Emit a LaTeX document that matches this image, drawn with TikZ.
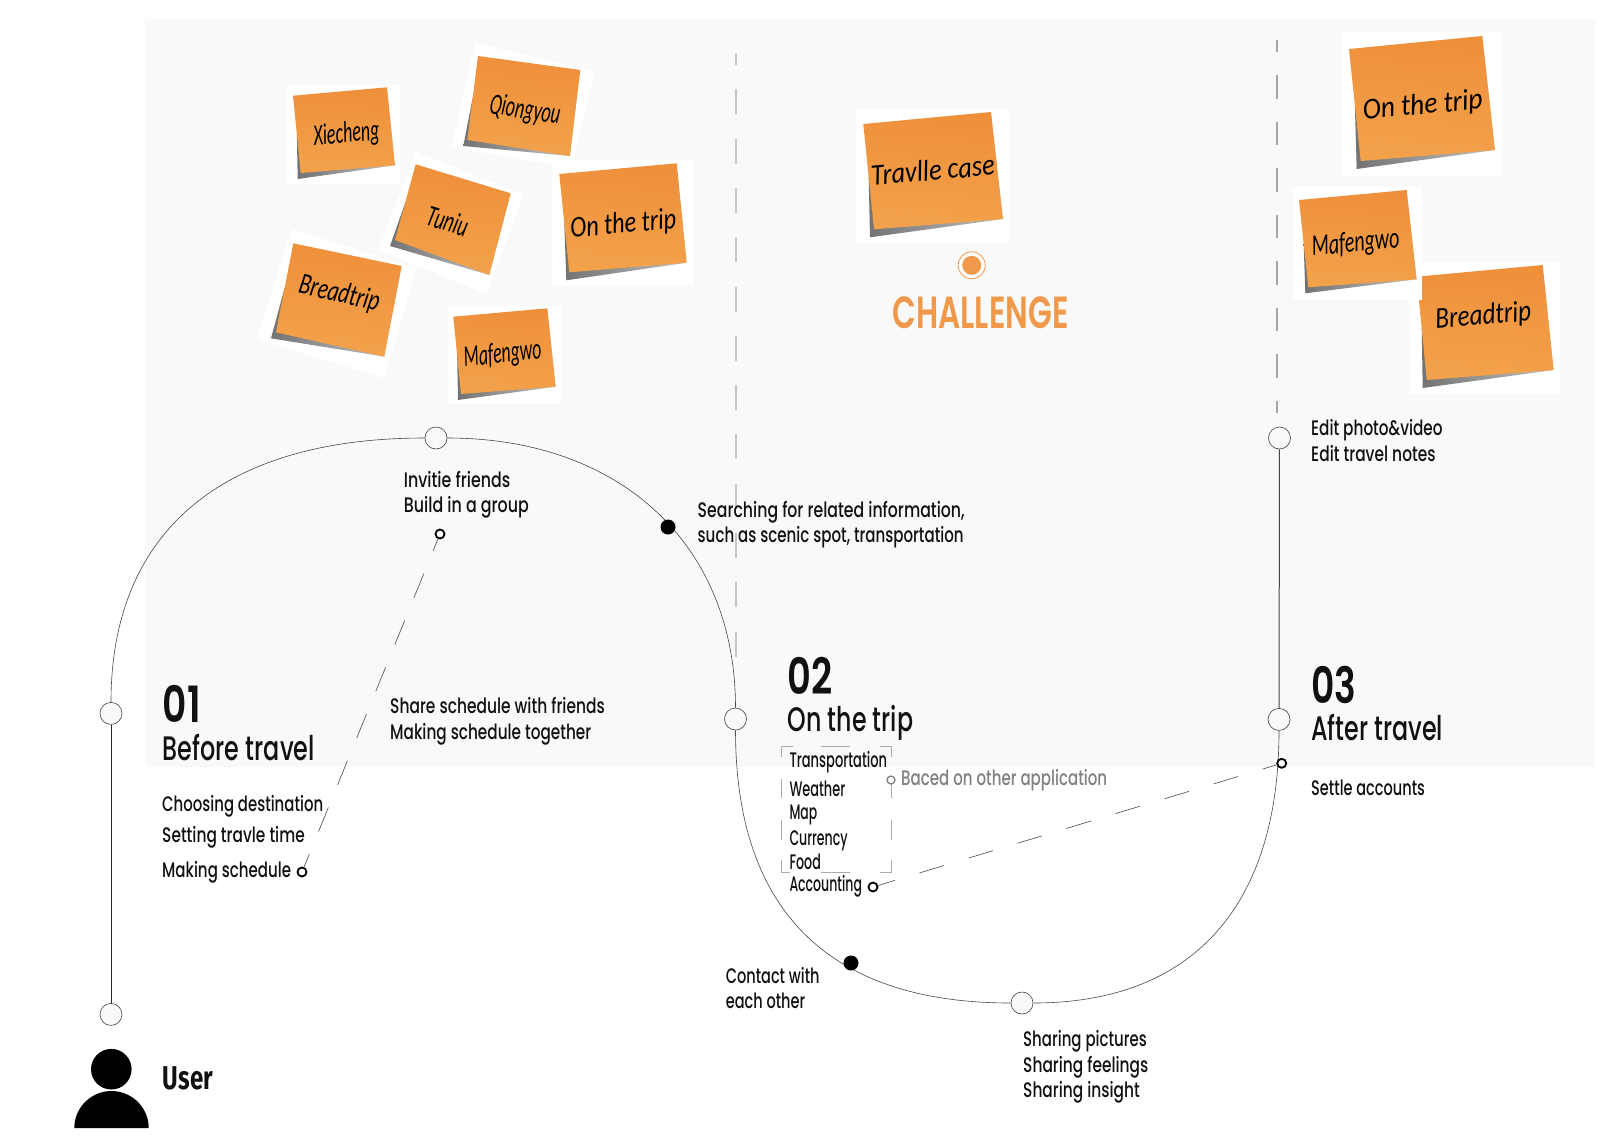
\documentclass[tikz,border=0pt]{standalone}
\usepackage{fontspec}
\usepackage{graphicx}
\usetikzlibrary{calc}
\newfontfamily\fmain{Poppins Medium}
\newfontfamily\fhead{Poppins SemiBold}
\newfontfamily\fuser{Fira Sans}
\newfontfamily\fhand{Carlito}
\definecolor{bgc}{HTML}{F9F9F9}
\definecolor{ink}{HTML}{111111}
\definecolor{stickTop}{HTML}{EF8F3A}
\definecolor{stickMid}{HTML}{F3A050}
\definecolor{stickBot}{HTML}{F2A24B}
\definecolor{chal}{HTML}{F1994A}
\newcommand\tw[2]{\resizebox{#1pt}{\height}{#2}}
\newcommand\sticky[6]{%
  \fill[white] #1;
  \shade[left color=black!55,right color=black!25] ($#2!.5!#5$) -- ($#5+#6$) -- #4 -- cycle;
  \shade[top color=stickTop,middle color=stickMid,bottom color=stickBot,shading angle=-5] #2 -- #3 -- #4 -- #5 -- cycle;
}
\tikzset{
  x=1pt,y=-1pt,
  bignode/.style={circle,draw=black!75,fill=bgc,line width=.6pt,minimum size=22pt,inner sep=0pt},
  dotnode/.style={circle,fill=black,minimum size=15pt,inner sep=0pt},
  ringnode/.style={circle,draw=black,fill=white,line width=1.8pt,minimum size=9pt,inner sep=0pt},
  greyring/.style={circle,draw=black!50,fill=white,line width=1.3pt,minimum size=8pt,inner sep=0pt},
  curve/.style={draw=black!72,line width=.6pt},
  stem/.style={draw=black!85,line width=1pt},
  thindash/.style={draw=black!72,line width=.6pt},
  boxdash/.style={draw=black!33,line width=.9pt},
  body/.style={anchor=base west,inner sep=0pt,text=ink,font=\fmain\fontsize{21}{21}\selectfont},
  head/.style={anchor=base west,inner sep=0pt,text=ink,font=\fmain\fontsize{34}{34}\selectfont},
  num/.style={anchor=base west,inner sep=0pt,text=ink,font=\fhead\fontsize{50}{50}\selectfont},
  hand/.style={inner sep=0pt,text=black,font=\fhand\itshape\fontsize{30}{30}\selectfont},
}
\begin{document}
\begin{tikzpicture}
\useasboundingbox (0,0) rectangle (1622,1138);
\fill[bgc] (145,19) rectangle (1595,767);
% dashed column separators
\coordinate (sepA1) at (736,53); \coordinate (sepA2) at (736,658);
\coordinate (sepB1) at (1277,40); \coordinate (sepB2) at (1277,413);
\draw[draw=black!22,line width=1.5pt,dash pattern=on 25pt off 24.3pt,dash phase=13pt] (sepA1) -- (sepA2);
\draw[draw=black!35,line width=1.2pt,dash pattern=on 23.5pt off 23pt,dash phase=11.5pt] (sepB1) -- (sepB2);
% sticky notes, group 1
\sticky{(287,85) -- (400,85) -- (400,184) -- (287,184) -- cycle}{(293,95.7)}{(387,87.3)}{(395,165.3)}{(300.7,173)}{(-3,6)}
\sticky{(475,42.7) -- (594.3,71.7) -- (571.7,168) -- (451.7,147.3) -- cycle}{(478,56)}{(580.3,70)}{(570,156)}{(467.3,140)}{(-4,6)}
\sticky{(291.7,229) -- (416.7,268.3) -- (384,378.3) -- (256.7,339.3) -- cycle}{(293.3,243.3)}{(401.7,266)}{(384.3,356.7)}{(276,332.3)}{(-5,6)}
\sticky{(415.7,151.7) -- (523.7,195) -- (486.7,294) -- (378,250) -- cycle}{(415.7,164.3)}{(510.7,193.3)}{(489.3,275)}{(395,240)}{(-5,6)}
\sticky{(552,160) -- (693,160) -- (693,286) -- (552,286) -- cycle}{(559.3,174)}{(676.7,163.3)}{(686.7,262.7)}{(569.3,272.3)}{(-3,8)}
\sticky{(448,305.7) -- (561,305.7) -- (561,404.3) -- (448,404.3) -- cycle}{(453.3,316.7)}{(547.3,308.3)}{(555.7,386.7)}{(461,394)}{(-3,6)}
\node[hand,rotate=5] (tXie) at (346.5,134.5) {\tw{66}{Xiecheng}};
\node[hand,rotate=-9] (tQio) at (525,111) {\tw{71}{Qiongyou}};
\node[hand,rotate=-17] (tTun) at (447.7,221) {\tw{42}{Tuniu}};
\node[hand,rotate=5] (tOn1) at (623.3,225) {\tw{106}{On the trip}};
\node[hand,rotate=-13] (tBre1) at (339.3,294.3) {\tw{82}{Breadtrip}};
\node[hand,rotate=6] (tMaf1) at (502.7,355) {\tw{78}{Mafengwo}};
% challenge
\sticky{(855.7,109) -- (1009,109) -- (1009,243.3) -- (855.7,243.3) -- cycle}{(863.3,124)}{(991,112)}{(1003,219)}{(874,229.3)}{(-4,8)}
\node[hand,rotate=5] (tCase) at (932.7,170) {\tw{124}{Travlle case}};
\node[circle,draw=chal,fill=white,line width=.8pt,minimum size=27pt,inner sep=0pt] (chalO) at (971.7,265.3) {};
\node[circle,fill=chal,minimum size=19pt,inner sep=0pt] (chalI) at (971.7,265.3) {};
\node[inner sep=0pt,anchor=base,text=chal,font=\fhead\fontsize{45}{45}\selectfont] (tChal) at (980.5,328) {\tw{176}{CHALLENGE}};
% sticky notes, group 3
\sticky{(1341.7,32.3) -- (1501.7,32.3) -- (1501.7,175.7) -- (1341.7,175.7) -- cycle}{(1349,49)}{(1482.3,36)}{(1495,150)}{(1360.7,161)}{(-4,8)}
\sticky{(1409.3,262) -- (1560,262) -- (1560,394.3) -- (1409.3,394.3) -- cycle}{(1416.7,276.7)}{(1542.7,265)}{(1553.7,370)}{(1426.7,380)}{(-4,8)}
\sticky{(1293.3,187.3) -- (1422,187.3) -- (1422,300) -- (1293.3,300) -- cycle}{(1299,200)}{(1406.7,190)}{(1416.7,279.3)}{(1308.3,287.3)}{(-3,6)}
\node[hand,rotate=5] (tOn2) at (1422.7,106) {\tw{120}{On the trip}};
\node[hand,rotate=5] (tMaf2) at (1355.7,244) {\tw{88}{Mafengwo}};
\node[hand,rotate=5] (tBre2) at (1483.3,316.7) {\tw{96}{Breadtrip}};
% path nodes
\node[bignode] (nEnd) at (111,1014.4) {};
\node[bignode] (nOne) at (111,713.4) {};
\node[bignode] (nTop) at (436,438) {};
\node[bignode] (nTwo) at (735.5,719) {};
\node[bignode] (nBot) at (1022,1003) {};
\node[bignode] (nThree) at (1279,719.4) {};
\node[bignode] (nEdit) at (1279.5,438) {};
\draw[stem] (nOne) -- (nEnd);
\draw[stem,draw=black!72] (nEdit) -- (nThree);
\draw[curve] (nOne) .. controls (111,532) and (222,438) .. (nTop);
\draw[curve] (nTop) .. controls (621,438) and (735.5,545) .. (nTwo);
\draw[curve] (nTwo) .. controls (735.5,909) and (827,1003) .. (nBot);
\draw[curve] (nBot) .. controls (1192,1003) and (1279,907) .. (nThree);
\node[dotnode] (dotA) at (668,527) {};
\node[dotnode] (dotB) at (851,963) {};
% dashed links
\node[ringnode,fill=bgc] (rA) at (440,534) {};
\node[ringnode] (rB) at (302,872) {};
\node[ringnode] (rC) at (873,887) {};
\node[ringnode,fill=bgc] (rD) at (1281.7,763.3) {};
\draw[thindash,dash pattern=on 26pt off 24.5pt,dash phase=13pt] (rA) -- (rB);
\draw[thindash,dash pattern=on 25.7pt off 25.5pt,dash phase=8pt] (rC) -- (rD);
% dashed bracket
\draw[boxdash] (792.5,746) -- (781,746) -- (781,757);
\draw[boxdash] (820.5,746) -- (850,746);
\draw[boxdash] (879.5,746) -- (891,746) -- (891,757);
\draw[boxdash] (781,778.5) -- (781,798);
\draw[boxdash] (781,819.5) -- (781,840);
\draw[boxdash] (781,860) -- (781,872) -- (790,872);
\draw[boxdash] (821,872) -- (850,872);
\draw[boxdash] (879.5,872) -- (891,872) -- (891,860);
\draw[boxdash] (891,778.5) -- (891,798);
\draw[boxdash] (891,819.5) -- (891,840);
\node[greyring,fill=bgc] (rE) at (891,780) {};
\node[body,text=black!50] (tBased) at (901,785.7) {\tw{206}{Baced on other application}};
% section heads
\node[num] (n01) at (162.7,722.7) {\tw{38}{01}};
\node[head] (h01) at (162.7,760) {\tw{152}{Before travel}};
\node[num] (n02) at (787.5,694.3) {\tw{45}{02}};
\node[head] (h02) at (787.5,731.7) {\tw{125.5}{On the trip}};
\node[num] (n03) at (1311.3,703.2) {\tw{45}{03}};
\node[head] (h03) at (1311,740) {\tw{132}{After travel}};
% body text
\node[body] (b1) at (162,811.5) {\tw{161}{Choosing destination}};
\node[body] (b2) at (162,842.5) {\tw{142.6}{Setting travle time}};
\node[body] (b3) at (162,877) {\tw{129}{Making schedule}};
\node[body] (b4) at (403.7,487) {\tw{106.3}{Invitie friends}};
\node[body] (b5) at (403.7,512.3) {\tw{125}{Build in a group}};
\node[body] (b6) at (390,713.3) {\tw{214.6}{Share schedule with friends}};
\node[body] (b7) at (390,739.3) {\tw{201}{Making schedule together}};
\node[body] (b8) at (697.5,517.5) {\tw{267}{Searching for related information,}};
\node[body] (b9) at (697.5,542.7) {\tw{266}{such as scenic spot, transportation}};
\node[body] (c1) at (789.3,767.3) {\tw{97.7}{Transportation}};
\node[body] (c2) at (789.3,796) {\tw{55.7}{Weather}};
\node[body] (c3) at (789.3,819.3) {\tw{27.7}{Map}};
\node[body] (c4) at (789.3,845) {\tw{58.2}{Currency}};
\node[body] (c5) at (789.3,869) {\tw{31.4}{Food}};
\node[body] (c6) at (789.3,891.7) {\tw{72.5}{Accounting}};
\node[body] (d1) at (1311,435.7) {\tw{131.4}{Edit photo\&video}};
\node[body] (d2) at (1311,461.7) {\tw{124.4}{Edit travel notes}};
\node[body] (d3) at (1311,795.7) {\tw{113.7}{Settle accounts}};
\node[body] (e1) at (725.6,983.3) {\tw{93.8}{Contact with}};
\node[body] (e2) at (725.6,1008.3) {\tw{79.4}{each other}};
\node[body] (f1) at (1023,1046.7) {\tw{123.6}{Sharing pictures}};
\node[body] (f2) at (1023,1072.3) {\tw{125.1}{Sharing feelings}};
\node[body] (f3) at (1023,1097.3) {\tw{116.6}{Sharing insight}};
% user
\node[circle,fill=black,minimum size=40.6pt,inner sep=0pt] (uHead) at (111.3,1069.2) {};
\fill[black] (74.3,1128) .. controls (74.3,1107.6) and (91,1091) .. (111.5,1091) .. controls (132,1091) and (148.7,1107.6) .. (148.7,1128) -- cycle;
\node[anchor=base west,inner sep=0pt,text=ink,font=\fuser\bfseries\fontsize{33}{33}\selectfont] (tUser) at (162.7,1089.3) {\tw{50}{User}};
\end{tikzpicture}
\end{document}
